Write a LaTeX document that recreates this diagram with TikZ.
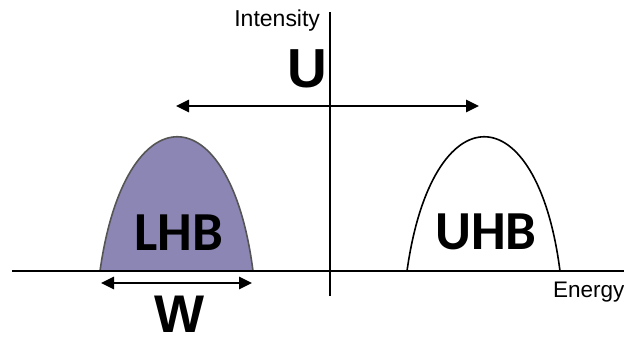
\documentclass[tikz,border=0pt]{standalone}
\usepackage{fontspec}
\setmainfont{Liberation Sans}
\newfontfamily\calib{Carlito}
\usetikzlibrary{arrows.meta}
\definecolor{lhbfill}{HTML}{8C86B5}
\definecolor{lhbline}{HTML}{555555}
\tikzset{
  axisline/.style={line width=1.5pt,black},
  dblarrow/.style={line width=2.8pt,{Triangle[length=13pt,width=12pt]}-{Triangle[length=13pt,width=12pt]}},
  bandline/.style={line width=1.6pt},
  lbl/.style={inner sep=0pt,outer sep=0pt},
}
\begin{document}
\begin{tikzpicture}[x=1pt,y=-1pt]
\useasboundingbox (0,0) rectangle (624,338);
\fill[white] (0,0) rectangle (624,338);
% bands
\filldraw[bandline,fill=lhbfill,draw=lhbline] (100,271) .. controls (125,92) and (230,92) .. (253,271) -- cycle;
\draw[bandline,black] (407,271) .. controls (432,92) and (537,92) .. (560,271);
% axes
\coordinate (xl) at (12,271);
\coordinate (xr) at (624,271);
\coordinate (yt) at (330,12);
\coordinate (yb) at (330,296);
\draw[axisline] (xl) -- (xr);
\draw[axisline] (yb) -- (yt);
% arrows
\coordinate (ul) at (176,106);
\coordinate (ur) at (479,106);
\draw[dblarrow] (ul) -- (ur);
\coordinate (wl) at (101,283);
\coordinate (wr) at (252,283);
\draw[dblarrow] (wl) -- (wr);
% labels
\node[lbl,anchor=base east] (int) at (320,26) {\fontsize{23}{27}\selectfont Intensity};
\node[lbl,anchor=base west] (en) at (553,297) {\fontsize{22.5}{27}\selectfont Energy};
\node[lbl,anchor=base] (U) at (307,87) {\fontsize{55}{60}\selectfont\bfseries U};
\node[lbl,anchor=base] (W) at (180,332) {\fontsize{53}{60}\selectfont\bfseries W};
\node[lbl,anchor=base] (lhb) at (179,250) {\calib\fontsize{55}{60}\selectfont\bfseries LHB};
\node[lbl,anchor=base] (uhb) at (486,249) {\calib\fontsize{55}{60}\selectfont\bfseries UHB};
\end{tikzpicture}
\end{document}
